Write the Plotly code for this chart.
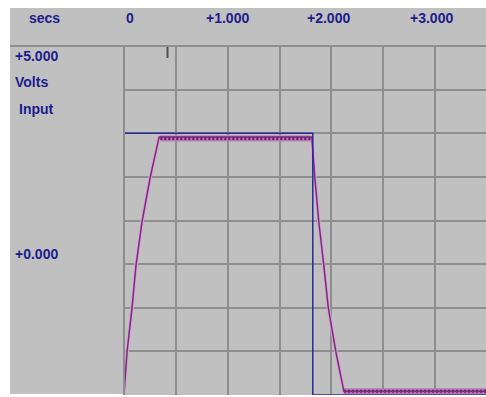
import plotly.graph_objects as go

W, H = 486, 397

# ---- data (seconds, volts) ----
input_t = [0.0, 1.82, 1.82, 3.49]
input_v = [5.0, 5.0, 0.0, 0.0]

output_t = [0.0, 0.029, 0.077, 0.116, 0.174, 0.252, 0.339, 1.81,
            1.84, 1.878, 1.926, 1.97, 2.043, 2.12, 3.49]
output_v = [0.0, 0.82, 1.66, 2.48, 3.31, 4.15, 4.93, 4.93,
            4.15, 3.31, 2.48, 1.66, 0.82, 0.07, 0.07]

# ripple bands (hatched segments of the output)
high_t = [0.35, 1.80]
high_v = [4.90, 4.90]
low_t = [2.12, 3.49]
low_v = [0.07, 0.07]

x_tick_labels = ["0", "+1.000", "+2.000", "+3.000"]
x_tick_pos = [130, 227, 328, 431]  # header label centres (screen px)

NAVY = "#1c1c8c"
GRID = "#8e8e8e"
BG = "#c0c0c0"

def px(x):
    return x / W

def py(y):
    return 1 - y / H

fig = go.Figure()

# output halo + core
fig.add_trace(go.Scatter(x=output_t, y=output_v, mode="lines",
                         line=dict(color="#d7a3d7", width=3.5),
                         cliponaxis=False, hoverinfo="skip", showlegend=False))
for bt, bv in [(high_t, high_v), (low_t, low_v)]:
    fig.add_trace(go.Scatter(x=bt, y=bv, mode="lines",
                             line=dict(color="#b57ab5", width=6),
                             cliponaxis=False, showlegend=False))
    fig.add_trace(go.Scatter(x=bt, y=bv, mode="lines",
                             line=dict(color="#6a1a6a", width=3, dash="2px,2px"),
                             cliponaxis=False, showlegend=False))
fig.add_trace(go.Scatter(x=output_t, y=output_v, mode="lines",
                         line=dict(color="#7a2a7a", width=1.5),
                         cliponaxis=False, showlegend=False))
# input
fig.add_trace(go.Scatter(x=input_t, y=input_v, mode="lines",
                         line=dict(color="#2a2a9a", width=1.5),
                         cliponaxis=False, showlegend=False))

shapes = [
    dict(type="rect", xref="paper", yref="paper", x0=px(10), x1=1,
         y0=py(394), y1=py(8), fillcolor=BG, line=dict(width=0), layer="below"),
    dict(type="line", xref="paper", yref="paper", x0=px(10), x1=1,
         y0=py(46), y1=py(46), line=dict(color=GRID, width=2)),
    dict(type="line", xref="paper", yref="paper", x0=px(124), x1=px(124),
         y0=py(395), y1=py(46), line=dict(color=GRID, width=2)),
    dict(type="line", xref="paper", yref="paper", x0=px(167.5), x1=px(167.5),
         y0=py(58), y1=py(47), line=dict(color="#505050", width=2)),
]

font = dict(family="Liberation Sans, Arial, sans-serif", size=14, color=NAVY)
annotations = [dict(text="<b>secs</b>", x=px(44), y=py(18), xref="paper", yref="paper",
                    xanchor="center", yanchor="middle", showarrow=False, font=font)]
for lab, xp in zip(x_tick_labels, x_tick_pos):
    annotations.append(dict(text=f"<b>{lab}</b>", x=px(xp), y=py(18), xref="paper",
                            yref="paper", xanchor="center", yanchor="middle",
                            showarrow=False, font=font))
for lab, xl, yc in [("+5.000", 13, 56), ("Volts", 13, 82), ("Input", 17, 109),
                    ("+0.000", 13, 254)]:
    annotations.append(dict(text=f"<b>{lab}</b>", x=px(xl), y=py(yc), xref="paper",
                            yref="paper", xanchor="left", yanchor="middle",
                            showarrow=False, font=font))

fig.update_layout(
    width=W, height=H,
    margin=dict(l=0, r=0, t=0, b=0),
    paper_bgcolor="white",
    plot_bgcolor=BG,
    shapes=shapes,
    annotations=annotations,
    xaxis=dict(domain=[px(124), 1], range=[0, 3.49], dtick=0.5, tick0=0,
               showgrid=True, gridcolor=GRID, gridwidth=2, zeroline=False,
               showticklabels=False, ticks="", showline=False, fixedrange=True),
    yaxis=dict(domain=[py(395), py(46)], range=[0, 20 / 3], dtick=5 / 6, tick0=0,
               showgrid=True, gridcolor=GRID, gridwidth=2, zeroline=False,
               showticklabels=False, ticks="", showline=False, fixedrange=True),
)

fig.write_html("out.html",
               config={"displayModeBar": False},
               post_script="var d=document.getElementById('{plot_id}');"
                           "d.style.position='fixed';d.style.left='0px';d.style.top='0px';"
                           "document.body.style.margin='0px';")
